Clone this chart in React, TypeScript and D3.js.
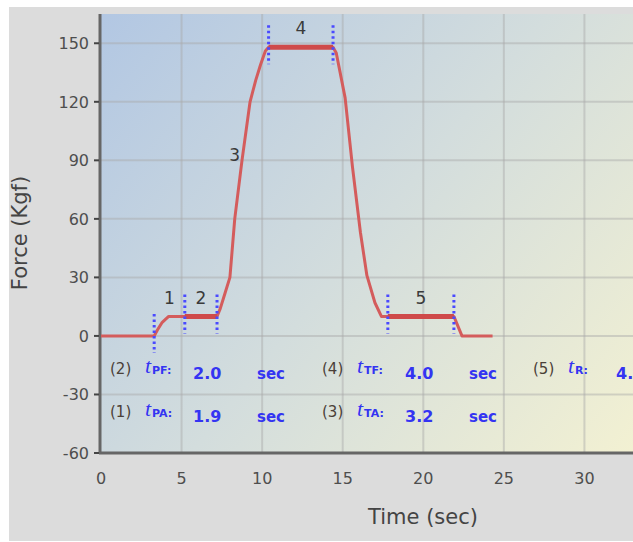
import React from "react";
import * as d3 from "d3";

// Axis ticks
const TIME_TICKS = [0, 5, 10, 15, 20, 25, 30];
const FORCE_TICKS = [-60, -30, 0, 30, 60, 90, 120, 150];

// Measured force profile (sec, Kgf)
const profileTime = [0, 3.3, 3.5, 3.8, 4.2, 7.2, 7.4, 7.7, 8.0, 8.3, 8.75, 9.25, 9.6, 9.9, 10.2, 10.4, 14.4, 14.6, 15.15, 15.6, 16.1, 16.5, 17.0, 17.4, 17.8, 21.9, 22.2, 22.4, 24.3];
const profileForce = [0, 0, 3, 7, 10, 10, 14, 22, 30, 60, 90, 120, 131, 139, 146, 148, 148, 145, 122, 87, 53, 31, 17, 10, 10, 10, 4, 0, 0];

// Test phases
const phaseNumbers = [1, 2, 3, 4, 5];
const phaseCodes = ["PA", "PF", "TA", "TF", "R"];
const phaseDurations = [1.9, 2.0, 3.2, 4.0, 4.1];
const phaseStart = 3.3;
const unloadGap = 3.4; // descent between TF and R, not a timed phase

const W = 633;
const H = 542;

export default function App() {
  const x = d3.scaleLinear().domain([0, 35]).range([101, 665]);
  const y = d3.scaleLinear().domain([-60, 165]).range([453, 14]);

  const pts: [number, number][] = profileTime.map((t, i) => [t, profileForce[i]]);
  const line = d3
    .line<[number, number]>()
    .x((d) => x(d[0]))
    .y((d) => y(d[1]));

  const forceAt = (t: number) => {
    const i = d3.bisectLeft(profileTime, t);
    if (i <= 0) return profileForce[0];
    if (i >= profileTime.length) return profileForce[profileForce.length - 1];
    const t0 = profileTime[i - 1], t1 = profileTime[i];
    const f0 = profileForce[i - 1], f1 = profileForce[i];
    return t1 === t0 ? f1 : f0 + ((t - t0) / (t1 - t0)) * (f1 - f0);
  };

  // phase boundaries
  const bounds: number[] = [phaseStart];
  phaseDurations.forEach((d, i) => {
    const prev = bounds[bounds.length - 1];
    bounds.push(prev + d + (i === 4 ? unloadGap : 0));
  });
  const phaseRanges = phaseDurations.map((d, i) => {
    const end = bounds[i + 1];
    return [end - d, end];
  });
  const markerTimes = Array.from(new Set(phaseRanges.flat().map((v) => +v.toFixed(3))));

  const subset = (a: number, b: number) => {
    const inner = pts.filter((p) => p[0] > a && p[0] < b);
    return [[a, forceAt(a)] as [number, number], ...inner, [b, forceAt(b)] as [number, number]];
  };
  const flatPhases = [1, 3, 4];

  const fmt = d3.format(".1f");
  const blue = "#3434f2";
  const tickColor = "#4e4e4e";
  const font = "DejaVu Sans, Verdana, sans-serif";

  const colX = [110, 322, 533];
  const rowY = [379, 422];

  return (
    <svg
      width={W}
      height={H}
      style={{ position: "absolute", left: 0, top: 0, display: "block" }}
      fontFamily={font}
    >
      <defs>
        <linearGradient id="plotBg" gradientUnits="userSpaceOnUse" x1={101} y1={14} x2={640} y2={453}>
          <stop offset="0%" stopColor="#b2c7e3" />
          <stop offset="50%" stopColor="#d3dddd" />
          <stop offset="100%" stopColor="#f3f1d2" />
        </linearGradient>
        <clipPath id="plotClip">
          <rect x={101} y={14} width={600} height={439} />
        </clipPath>
      </defs>

      <rect x={0} y={0} width={W} height={H} fill="#ffffff" />
      <rect x={9} y={7} width={W - 9} height={534} fill="#dcdcdc" />

      <rect x={101} y={14} width={600} height={439} fill="url(#plotBg)" />

      {/* grid */}
      <g stroke="#a8a8a8" strokeOpacity={0.45} strokeWidth={2}>
        {TIME_TICKS.concat([35]).filter((t) => t > 0).map((t) => (
          <line key={"gx" + t} x1={x(t)} x2={x(t)} y1={14} y2={453} />
        ))}
        {FORCE_TICKS.filter((f) => f > -60).map((f) => (
          <line key={"gy" + f} x1={101} x2={W} y1={y(f)} y2={y(f)} />
        ))}
      </g>

      {/* axes */}
      <line x1={100} x2={100} y1={14} y2={454} stroke="#666" strokeWidth={3} />
      <line x1={99} x2={W} y1={453} y2={453} stroke="#666" strokeWidth={3} />
      {FORCE_TICKS.map((f) => (
        <g key={"yt" + f}>
          <line x1={94} x2={99} y1={y(f)} y2={y(f)} stroke="#444" strokeWidth={2} />
          <text x={89} y={y(f)} dy="0.36em" textAnchor="end" fontSize={16} fill={tickColor}>
            {f}
          </text>
        </g>
      ))}
      {TIME_TICKS.map((t) => (
        <text key={"xt" + t} x={x(t)} y={484} textAnchor="middle" fontSize={16} fill={tickColor}>
          {t}
        </text>
      ))}

      <text x={423} y={524} textAnchor="middle" fontSize={21} fill="#444">
        Time (sec)
      </text>
      <text transform="translate(27,233) rotate(-90)" textAnchor="middle" fontSize={21} fill="#444">
        Force (Kgf)
      </text>

      {/* force profile */}
      <g clipPath="url(#plotClip)">
        <path d={line(pts) || ""} fill="none" stroke="#d45c5c" strokeWidth={3} strokeLinejoin="round" />
        {flatPhases.map((i) => (
          <path
            key={"hl" + i}
            d={line(subset(phaseRanges[i][0], phaseRanges[i][1])) || ""}
            fill="none"
            stroke="#cf4a4a"
            strokeWidth={5}
          />
        ))}

        {/* phase boundary markers */}
        {markerTimes.map((t) => {
          const cy = y(forceAt(t));
          return (
            <line
              key={"mk" + t}
              x1={x(t)}
              x2={x(t)}
              y1={cy - 22}
              y2={cy + 17}
              stroke="#4a4aff"
              strokeWidth={3}
              strokeDasharray="2.5,3"
            />
          );
        })}

        {/* phase numbers */}
        {phaseNumbers.map((n, i) => {
          const [a, b] = phaseRanges[i];
          const mid = (a + b) / 2;
          const isRamp = i === 2;
          const tx = isRamp ? mid - 0.5 : mid;
          const fy = isRamp ? y(forceAt(mid)) : y(forceAt(b)) - 19;
          return (
            <text
              key={"pn" + n}
              x={x(tx)}
              y={fy}
              dy="0.36em"
              textAnchor="middle"
              fontSize={17}
              fill="#3a3a3a"
            >
              {n}
            </text>
          );
        })}

        {/* phase duration summary */}
        {phaseNumbers.map((n, i) => {
          const col = Math.floor(i / 2);
          const row = i === 4 ? 0 : i % 2 === 0 ? 1 : 0;
          const cx = colX[col];
          const by = rowY[row];
          return (
            <g key={"sum" + n}>
              <text x={cx} y={by - 5} fontSize={15} fill="#4a4038">
                ({n})
              </text>
              <text x={cx + 35} y={by - 6} fontSize={22} fontStyle="italic" fontFamily="Liberation Serif, serif" fill={blue}>
                t
              </text>
              <text x={cx + 42} y={by - 5} fontSize={11} fontWeight="bold" fill={blue}>
                {phaseCodes[i]}:
              </text>
              <text x={cx + 83} y={by} fontSize={16} fontWeight="bold" fill={blue}>
                {fmt(phaseDurations[i])}
              </text>
              <text x={cx + 147} y={by} fontSize={15} fontWeight="bold" fill={blue}>
                sec
              </text>
            </g>
          );
        })}
      </g>
    </svg>
  );
}
